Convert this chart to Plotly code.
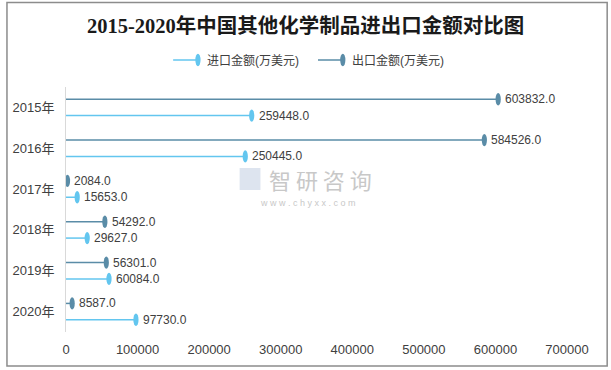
import plotly.graph_objects as go

years = ["2015年", "2016年", "2017年", "2018年", "2019年", "2020年"]
import_vals = [259448.0, 250445.0, 15653.0, 29627.0, 60084.0, 97730.0]
export_vals = [603832.0, 584526.0, 2084.0, 54292.0, 56301.0, 8587.0]
x_ticks = [0, 100000, 200000, 300000, 400000, 500000, 600000, 700000]
import_name = "进口金额(万美元)"
export_name = "出口金额(万美元)"
title_text = "2015-2020年中国其他化学制品进出口金额对比图"

IMPORT_COLOR = "#63C6EF"
EXPORT_COLOR = "#5A8CA7"
TEXT_COLOR = "#404040"
FONT = "Liberation Sans, Noto Sans CJK SC, sans-serif"

fig = go.Figure()
shapes = []
annotations = []

series = [(export_vals, EXPORT_COLOR, -0.2), (import_vals, IMPORT_COLOR, 0.2)]
for vals, color, off in series:
    xs, ys = [], []
    for i, v in enumerate(vals):
        yp = i + off
        xs += [0, v, None]
        ys += [yp, yp, None]
        shapes.append(dict(type="circle", xref="x", yref="y", xsizemode="pixel", ysizemode="pixel",
                           xanchor=v, yanchor=yp, x0=-2.6, x1=2.6, y0=-6.2, y1=6.2,
                           fillcolor=color, line=dict(width=0), layer="above"))
        annotations.append(dict(x=v, y=yp, xref="x", yref="y", text=f"{v:.1f}", showarrow=False,
                                xanchor="left", yanchor="middle", xshift=5,
                                font=dict(family=FONT, size=12, color=TEXT_COLOR)))
    fig.add_trace(go.Scatter(x=xs, y=ys, mode="lines", line=dict(color=color, width=1.5),
                             hoverinfo="skip", showlegend=False))

# plot area geometry helpers (pixels)
L, R, T, B = 62, 44, 87, 38
W, H = 611 - L - R, 370 - T - B

def px(x):
    return (x - L) / W

def py(y):
    return (370 - B - y) / H

# manual legend
legend_items = [(import_name, IMPORT_COLOR, 170), (export_name, EXPORT_COLOR, 316)]
ly = py(60)
for name, color, x0 in legend_items:
    shapes.append(dict(type="line", xref="paper", yref="paper", x0=px(x0), x1=px(x0 + 24),
                       y0=ly, y1=ly, line=dict(color=color, width=1.5)))
    shapes.append(dict(type="circle", xref="paper", yref="paper", xsizemode="pixel", ysizemode="pixel",
                       xanchor=px(x0 + 25), yanchor=ly, x0=-2.6, x1=2.6, y0=-6.2, y1=6.2,
                       fillcolor=color, line=dict(width=0)))
    annotations.append(dict(x=px(x0 + 32), y=ly, xref="paper", yref="paper", text=name, showarrow=False,
                            xanchor="left", yanchor="middle",
                            font=dict(family=FONT, size=12, color=TEXT_COLOR)))

# outer frame
shapes.append(dict(type="rect", xref="paper", yref="paper", x0=px(2.5), x1=px(607.5), y0=py(366), y1=py(2.5),
                   line=dict(color="#8c8c8c", width=1.5), fillcolor="rgba(0,0,0,0)", layer="below"))

# watermark
annotations.append(dict(x=px(319), y=py(179), xref="paper", yref="paper", text="智 研 咨 询", showarrow=False,
                        yanchor="middle", borderpad=0,
                        font=dict(family="Noto Sans CJK SC", size=22, color="#c8c8c8")))
annotations.append(dict(x=px(306), y=py(203), xref="paper", yref="paper",
                        text="w w w . c h y x x . c o m", showarrow=False, yanchor="middle", borderpad=0,
                        font=dict(family=FONT, size=9, color="#c8c8c8")))
shapes.append(dict(type="rect", xref="paper", yref="paper", x0=px(237), x1=px(258), y0=py(190), y1=py(168),
                   line=dict(width=0), fillcolor="rgba(180,195,220,0.45)", layer="below"))

# title
annotations.append(dict(x=px(303), y=py(25), xref="paper", yref="paper", text=f"<b>{title_text}</b>",
                        showarrow=False, xanchor="center", yanchor="middle",
                        font=dict(family="Liberation Serif, Noto Sans CJK SC, serif", size=20.5, color="#1a1a1a")))

fig.update_layout(
    width=611, height=370,
    margin=dict(l=L, r=R, t=T, b=B),
    paper_bgcolor="white", plot_bgcolor="white",
    shapes=shapes, annotations=annotations,
    xaxis=dict(range=[0, 700000], tickvals=x_ticks, ticktext=[str(t) for t in x_ticks],
               showgrid=False, zeroline=False, showline=False, ticks="",
               tickfont=dict(family=FONT, size=13, color=TEXT_COLOR), ticklabelstandoff=8),
    yaxis=dict(range=[5.5, -0.5], tickvals=list(range(len(years))), ticktext=years,
               showgrid=False, zeroline=False, showline=True, linecolor="#d9d9d9", linewidth=1,
               ticks="", tickfont=dict(family=FONT, size=13, color=TEXT_COLOR), ticklabelstandoff=8),
    showlegend=False,
)

fig.write_html("out.html", config={"displayModeBar": False},
               post_script="document.body.style.margin='0';document.body.style.overflow='hidden';")
